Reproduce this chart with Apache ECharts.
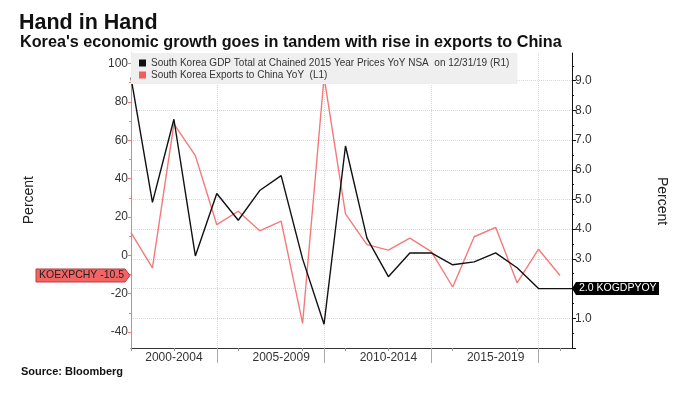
<!DOCTYPE html>
<html>
<head>
<meta charset="utf-8">
<script src="https://cdn.jsdelivr.net/npm/echarts@6/dist/echarts.min.js"></script>
<style>
	html, body { margin: 0; padding: 0; background: #fff; }
	#chart { width: 680px; height: 396px; }
</style>
</head>
<body>
<div id="chart"></div>
<script>
	// year-end readings, 12/31 of each year
	var years = [2000, 2001, 2002, 2003, 2004, 2005, 2006, 2007, 2008, 2009,
		2010, 2011, 2012, 2013, 2014, 2015, 2016, 2017, 2018, 2019, 2020];
	// South Korea GDP YoY (R1), 2000-2019
	var gdpYoY = [9.1, 4.9, 7.7, 3.1, 5.2, 4.3, 5.3, 5.8, 3.0, 0.8,
		6.8, 3.7, 2.4, 3.2, 3.2, 2.8, 2.9, 3.2, 2.7, 2.0];
	// South Korea exports to China YoY (L1), 2000-2020
	var exportsYoY = [11.8, -6.5, 68.5, 52, 16, 23, 12.8, 17.9, -35.5, 93,
		21.6, 5.6, 2.7, 9, 1.9, -16.5, 9.7, 14.6, -14.3, 3.2, -10.5];

	var periodLabels = ['2000-2004', '2005-2009', '2010-2014', '2015-2019'];
	var periodCenters = [2002, 2007, 2012, 2017];
	var periodBounds = [2004, 2009, 2014, 2019];
	var smallXTicks = [2000, 2002, 2005, 2008, 2010, 2012, 2015, 2018, 2020];
	var leftTicks = [-40, -20, 0, 20, 40, 60, 80, 100];
	var leftMinor = [-30, -10, 10, 30, 50, 70, 90];
	var rightTicks = [0, 1, 2, 3, 4, 5, 6, 7, 8, 9];
	var rightLabels = [1, 2, 3, 4, 5, 6, 7, 8, 9];
	var rightMinor = [0.5, 1.5, 2.5, 3.5, 4.5, 5.5, 6.5, 7.5, 8.5, 9.5];
	var xEnd = 2020.56;

	var gdpName = 'South Korea GDP Total at Chained 2015 Year Prices YoY NSA  on 12/31/19 (R1)';
	var expName = 'South Korea Exports to China YoY  (L1)';
	var FONT = 'Liberation Sans';
	var RED = '#f47a7a';

	var gdpData = gdpYoY.map(function (v, i) { return [years[i], v]; });
	// last value carried to the right edge
	gdpData.push([xEnd, gdpYoY[gdpYoY.length - 1]]);
	var expData = exportsYoY.map(function (v, i) { return [years[i], v]; });

	var chart = echarts.init(document.getElementById('chart'));

	var option = {
		animation: false,
		textStyle: { fontFamily: FONT },
		title: [{
			text: 'Hand in Hand', left: 14, top: 7,
			textStyle: { fontFamily: FONT, fontSize: 21.5, fontWeight: 'bold', color: '#111' }
		}, {
			text: "Korea's economic growth goes in tandem with rise in exports to China", left: 15, top: 30,
			textStyle: { fontFamily: FONT, fontSize: 16.2, fontWeight: 'bold', color: '#111' }
		}, {
			text: 'Source: Bloomberg', left: 16, top: 361,
			textStyle: { fontFamily: FONT, fontSize: 11, fontWeight: 'bold', color: '#111' }
		}],
		legend: {
			orient: 'vertical', left: 131, top: 53,
			padding: [5, 8, 4, 8], itemGap: 2,
			itemWidth: 7, itemHeight: 7, icon: 'rect',
			backgroundColor: '#efefef',
			textStyle: { fontFamily: FONT, fontSize: 10, color: '#333' },
			data: [{ name: gdpName, itemStyle: { color: '#111' } }, { name: expName, itemStyle: { color: '#f45c5c' } }]
		},
		grid: { left: 131, right: 108, top: 53, bottom: 48 },
		xAxis: [{
			type: 'value', min: 2000, max: xEnd,
			axisLine: { onZero: false, lineStyle: { color: '#333', width: 1 } },
			axisTick: { customValues: periodBounds, length: 15, lineStyle: { color: '#aaa' } },
			axisLabel: {
				customValues: periodCenters, color: '#333', fontSize: 12, margin: 4,
				formatter: function (v) { return periodLabels[periodCenters.indexOf(v)]; }
			},
			splitLine: { show: true, lineStyle: { color: '#d8d8d8', type: 'dotted' } }
		}, {
			type: 'value', min: 2000, max: xEnd, position: 'bottom',
			axisLine: { show: false, onZero: false },
			axisTick: { customValues: smallXTicks, length: 3, lineStyle: { color: '#999' } },
			axisLabel: { show: false },
			splitLine: { show: false }
		}],
		yAxis: [{
			type: 'value', position: 'left', min: -48.3, max: 105.5,
			axisLine: { show: true, onZero: false, lineStyle: { color: RED } },
			axisTick: { show: true, customValues: leftTicks, length: 3, lineStyle: { color: RED } },
			axisLabel: { customValues: leftTicks, color: '#333', fontSize: 12, margin: 3 },
			splitLine: { show: false }
		}, {
			type: 'value', position: 'right', min: 0, max: 9.93,
			axisLine: { show: true, onZero: false, lineStyle: { color: '#111' } },
			axisTick: { show: true, customValues: rightTicks, length: 4, lineStyle: { color: '#111' } },
			axisLabel: {
				customValues: rightLabels, color: '#333', fontSize: 12, margin: 3,
				formatter: function (v) { return v.toFixed(1); }
			},
			splitLine: { show: true, lineStyle: { color: '#d8d8d8', type: 'dotted' } }
		}, {
			type: 'value', position: 'left', min: -48.3, max: 105.5,
			axisLine: { show: false, onZero: false },
			axisTick: { show: true, customValues: leftMinor, length: 2, lineStyle: { color: RED } },
			axisLabel: { show: false },
			splitLine: { show: false }
		}, {
			type: 'value', position: 'right', min: 0, max: 9.93,
			axisLine: { show: false, onZero: false },
			axisTick: { show: true, customValues: rightMinor, length: 2, lineStyle: { color: '#111' } },
			axisLabel: { show: false },
			splitLine: { show: false }
		}],
		series: [{
			name: gdpName, type: 'line', xAxisIndex: 0, yAxisIndex: 1,
			data: gdpData, symbol: 'none', z: 3,
			lineStyle: { color: '#111', width: 1.4 }, itemStyle: { color: '#111' }
		}, {
			name: expName, type: 'line', xAxisIndex: 0, yAxisIndex: 0,
			data: expData, symbol: 'none', z: 2,
			lineStyle: { color: RED, width: 1.4 }, itemStyle: { color: '#f45c5c' }
		}]
	};

	chart.setOption(option);

	// last value tags on both axes
	var lastExp = exportsYoY[exportsYoY.length - 1];
	var lastGdp = gdpYoY[gdpYoY.length - 1];
	var pl = chart.convertToPixel({ xAxisIndex: 0, yAxisIndex: 0 }, [2000, lastExp]);
	var pr = chart.convertToPixel({ xAxisIndex: 0, yAxisIndex: 1 }, [xEnd, lastGdp]);
	var h = 6.5;
	var lx1 = 36, lx2 = 125, tip = pl[0] - 1;
	var rx1 = pr[0] + 4, rx2 = 659;

	chart.setOption({
		graphic: [{
			type: 'polygon', z: 10,
			shape: { points: [[lx1, pl[1] - h], [lx2, pl[1] - h], [tip, pl[1]], [lx2, pl[1] + h], [lx1, pl[1] + h]] },
			style: { fill: '#f56464', stroke: '#b83a3a', lineWidth: 1 }
		}, {
			type: 'text', z: 11, left: lx1 + 3, top: pl[1] - 6,
			style: { text: 'KOEXPCHY -10.5', font: '10.5px ' + FONT, fill: '#222' }
		}, {
			type: 'polygon', z: 10,
			shape: { points: [[pr[0], pr[1]], [rx1, pr[1] - h], [rx2, pr[1] - h], [rx2, pr[1] + h], [rx1, pr[1] + h]] },
			style: { fill: '#000' }
		}, {
			type: 'text', z: 11, left: rx1 + 3, top: pr[1] - 6,
			style: { text: '2.0 KOGDPYOY', font: '10.5px ' + FONT, fill: '#fff' }
		}, {
			type: 'text', z: 11, left: 22, top: 176, rotation: Math.PI / 2,
			style: { text: 'Percent', font: '14px ' + FONT, fill: '#222' }
		}, {
			type: 'text', z: 11, left: 655, top: 177, rotation: -Math.PI / 2,
			style: { text: 'Percent', font: '14px ' + FONT, fill: '#222' }
		}]
	});

	window.addEventListener('resize', function () { chart.resize(); });
</script>
</body>
</html>
